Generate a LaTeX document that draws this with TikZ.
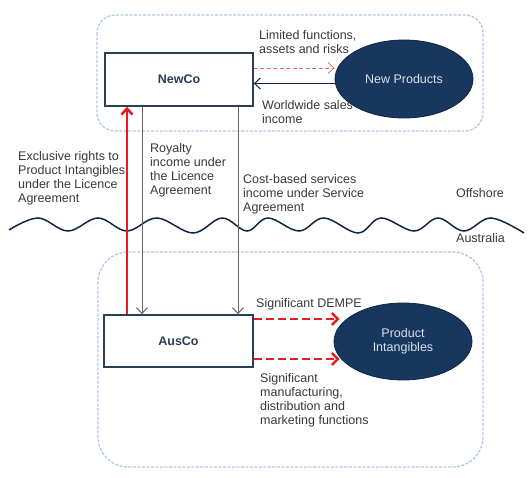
\documentclass[tikz,border=0pt]{standalone}
\usepackage{fontspec}
\setmainfont{Liberation Sans}
\usetikzlibrary{arrows.meta,shapes.geometric}
\definecolor{navy}{HTML}{17375E}
\definecolor{navyline}{HTML}{0F2640}
\definecolor{boxline}{HTML}{2B3E55}
\definecolor{txt}{HTML}{383838}
\definecolor{region}{HTML}{B3C8E2}
\definecolor{redd}{HTML}{E41E1E}
\definecolor{pinkred}{HTML}{E06A6A}
\definecolor{greyline}{HTML}{666666}
\definecolor{ellitxt}{HTML}{D9E1EA}
\begin{document}
\begin{tikzpicture}[x=1pt,y=-1pt,
  regionbox/.style={draw=region,line width=1.3pt,dash pattern=on 3pt off 1.5pt},
  company/.style={draw=boxline,line width=1.4pt,fill=white,font=\fontsize{12.5}{14}\selectfont\bfseries,text=boxline},
  entity/.style={ellipse,draw=navyline,line width=0.8pt,fill=navy,text=ellitxt,font=\fontsize{12.5}{14}\selectfont,align=center,inner sep=0pt},
  lbl/.style={anchor=north west,inner sep=0pt,align=left,text=txt,font=\fontsize{12.5}{14}\selectfont},
  thinarrow/.style={line width=1pt,-{Straight Barb[length=6pt,width=11pt]}},
  thickred/.style={draw=redd,line width=2.6pt,-{Straight Barb[length=6pt,width=11pt]}},
  dashred/.style={draw=redd,line width=2.4pt,dash pattern=on 8pt off 4pt,-{Straight Barb[length=6pt,width=12pt]}}
]
\useasboundingbox (0,0) rectangle (531,478);

% regions
\draw[regionbox,rounded corners=18pt] (97,15) rectangle (483,131);
\draw[regionbox,rounded corners=30pt] (98,252) rectangle (483,467);

% wave
\draw[line width=1.5pt,draw=navyline] plot[smooth,tension=0.6] coordinates {
 (9,230) (38,218) (68,231) (98,218) (127,231) (157,218) (193,233) (222,218)
 (247,231) (268,218) (299,231) (324,218) (358,233) (381,218) (414,231)
 (438,218) (464,231) (491,218) (524,233)};

% nodes
\node[company,minimum width=148pt,minimum height=53pt] (newco) at (179,79.5) {NewCo};
\node[company,minimum width=149pt,minimum height=52pt] (ausco) at (178.5,341) {AusCo};
\node[entity,minimum width=138pt,minimum height=78pt] (newprod) at (404,79) {New Products};
\node[entity,minimum width=138pt,minimum height=77pt] (prodint) at (403,341.5) {Product\\Intangibles};

% top arrows
\draw[thinarrow,draw=pinkred,line width=0.8pt,dash pattern=on 4pt off 2.5pt]
  ([yshift=11.5pt]newco.east) -- ([yshift=11.5pt]newco.east -| newprod.west);
\draw[thinarrow,draw=navyline]
  ([yshift=-4pt]newco.east -| newprod.west) -- ([yshift=-4pt]newco.east);

% vertical connectors
\draw[thickred] ([xshift=-51.5pt]ausco.north) -- ([xshift=-51.5pt]ausco.north |- newco.south);
\draw[thinarrow,draw=greyline] ([xshift=-37pt]newco.south) -- ([xshift=-37pt]newco.south |- ausco.north);
\draw[thinarrow,draw=greyline] ([xshift=59pt]newco.south) -- ([xshift=59pt]newco.south |- ausco.north);

% bottom arrows
\draw[dashred,shorten >=-6pt] ([yshift=22pt]ausco.east) -- ([yshift=22pt]ausco.east -| prodint.west);
\draw[dashred,shorten >=-6pt] ([yshift=-18pt]ausco.east) -- ([yshift=-18pt]ausco.east -| prodint.west);

% labels
\node[lbl] (l1) at (259,30.5) {Limited functions,\\assets and risks};
\node[lbl] (l2) at (262,100.5) {Worldwide sales\\income};
\node[lbl] (l3) at (18,151.5) {Exclusive rights to\\Product Intangibles\\under the Licence\\Agreement};
\node[lbl] (l4) at (150,143.5) {Royalty\\income under\\the Licence\\Agreement};
\node[lbl] (l5) at (243,174.5) {Cost-based services\\income under Service\\Agreement};
\node[lbl] (l6) at (456,188.5) {Offshore};
\node[lbl] (l7) at (456,233.5) {Australia};
\node[lbl] (l8) at (256,298.5) {Significant DEMPE};
\node[lbl] (l9) at (260,373.5) {Significant\\manufacturing,\\distribution and\\marketing functions};
\end{tikzpicture}
\end{document}
